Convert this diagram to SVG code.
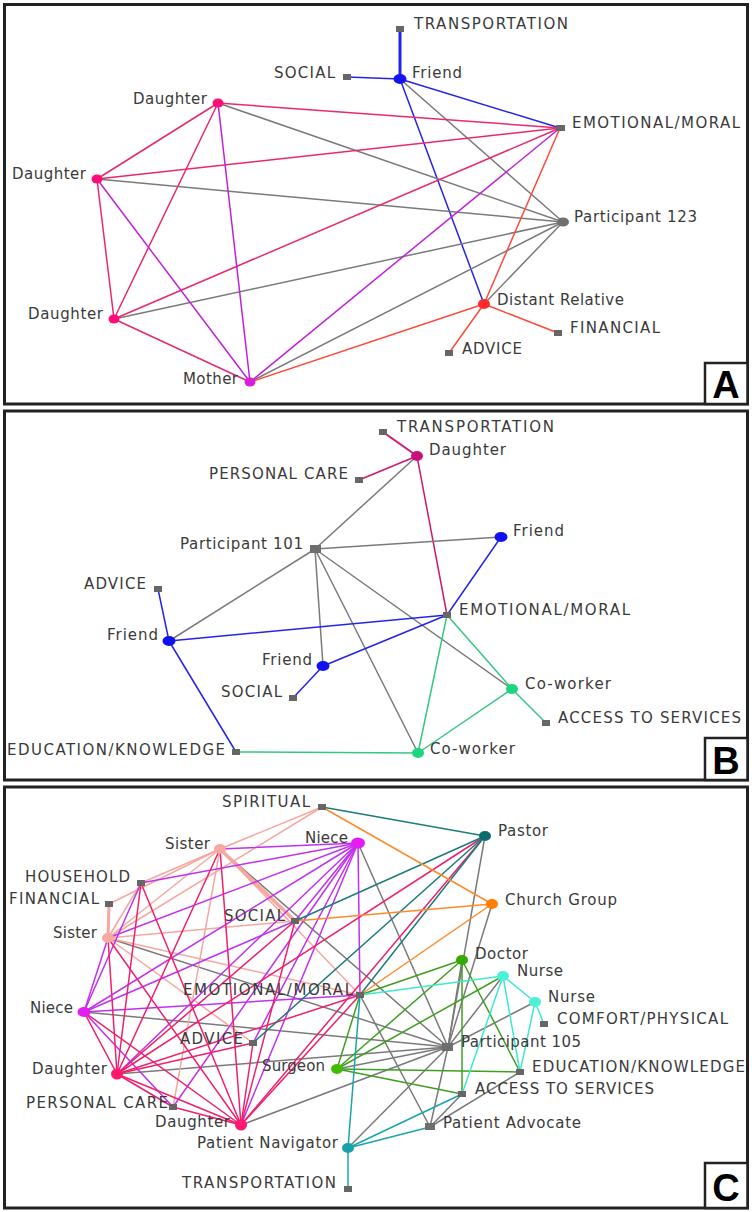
<svg xmlns="http://www.w3.org/2000/svg" width="755" height="1212" viewBox="0 0 755 1212">
<style>
.frame{fill:none;stroke:#222;stroke-width:3}
.tag{fill:#fff;stroke:#222;stroke-width:2.5}
.tagt{font-family:"Liberation Sans",Arial,sans-serif;font-weight:bold;font-size:38px;fill:#000;text-anchor:middle}
.l{font-family:"DejaVu Sans",Verdana,sans-serif;font-size:15px;fill:#3a3a3a}
.sq{fill:#666}
line{stroke-width:1.5;stroke-linecap:round}
.gy{stroke:#7a7a7a}
.bl{stroke:#2424e8}
.pk{stroke:#ea2870}
.pu{stroke:#c020dc}
.rd{stroke:#ff4a3a}
.bpk{stroke:#d0186e}
.gr{stroke:#33c880}
.sa{stroke:#f6a8a0}
.nv{stroke:#c230f0}
.cr{stroke:#f0206a}
.dt{stroke:#1e7b7b}
.or{stroke:#ff8a2a}
.dg{stroke:#3f9f20}
.aq{stroke:#40e8cc}
.tl{stroke:#1aa4ac}
</style>
<rect class="frame" x="4.5" y="4.5" width="743" height="399.5"/>
<rect class="frame" x="4.5" y="411" width="743" height="369"/>
<rect class="frame" x="4.5" y="787" width="743" height="421"/>
<rect class="tag" x="705" y="363" width="42.5" height="41"/>
<text class="tagt" x="726" y="398">A</text>
<rect class="tag" x="705" y="738" width="42.5" height="42"/>
<text class="tagt" x="726" y="774">B</text>
<rect class="tag" x="705" y="1163" width="42.5" height="45"/>
<text class="tagt" x="726" y="1201">C</text>

<g id="connectors">
<!-- Panel A -->
<line class="bl" x1="400" y1="79" x2="400" y2="29" style="stroke-width:3"/>
<line class="bl" x1="400" y1="79" x2="347" y2="77"/>
<line class="bl" x1="400" y1="79" x2="560" y2="128"/>
<line class="bl" x1="400" y1="79" x2="484" y2="304"/>
<line class="gy" x1="400" y1="79" x2="563" y2="222"/>
<line class="gy" x1="218" y1="103" x2="563" y2="222"/>
<line class="gy" x1="97" y1="179" x2="563" y2="222"/>
<line class="gy" x1="114" y1="319" x2="563" y2="222"/>
<line class="gy" x1="250" y1="382" x2="563" y2="222"/>
<line class="gy" x1="484" y1="304" x2="563" y2="222"/>
<line class="pk" x1="218" y1="103" x2="560" y2="128"/>
<line class="pk" x1="97" y1="179" x2="560" y2="128"/>
<line class="pk" x1="114" y1="319" x2="560" y2="128"/>
<line class="pk" x1="218" y1="103" x2="97" y2="179"/>
<line class="pk" x1="218" y1="103" x2="114" y2="319"/>
<line class="pk" x1="97" y1="179" x2="114" y2="319"/>
<line class="pk" x1="114" y1="319" x2="250" y2="382"/>
<line class="pu" x1="218" y1="103" x2="250" y2="382"/>
<line class="pu" x1="97" y1="179" x2="250" y2="382"/>
<line class="pu" x1="250" y1="382" x2="560" y2="128"/>
<line class="rd" x1="484" y1="304" x2="560" y2="128"/>
<line class="rd" x1="484" y1="304" x2="558" y2="333"/>
<line class="rd" x1="484" y1="304" x2="449" y2="353"/>
<line class="rd" x1="484" y1="304" x2="250" y2="382"/>
<!-- Panel B -->
<line class="bpk" x1="417" y1="456" x2="383" y2="432" style="stroke-width:2"/>
<line class="bpk" x1="417" y1="456" x2="359" y2="480"/>
<line class="bpk" x1="417" y1="456" x2="447" y2="615"/>
<line class="gy" x1="315" y1="549" x2="417" y2="456"/>
<line class="gy" x1="315" y1="549" x2="501" y2="537"/>
<line class="gy" x1="315" y1="549" x2="169" y2="641"/>
<line class="gy" x1="315" y1="549" x2="323" y2="666"/>
<line class="gy" x1="315" y1="549" x2="418" y2="753"/>
<line class="gy" x1="315" y1="549" x2="512" y2="689"/>
<line class="bl" x1="169" y1="641" x2="158" y2="589"/>
<line class="bl" x1="169" y1="641" x2="447" y2="615"/>
<line class="bl" x1="169" y1="641" x2="236" y2="752"/>
<line class="bl" x1="323" y1="666" x2="293" y2="698"/>
<line class="bl" x1="323" y1="666" x2="447" y2="615"/>
<line class="bl" x1="501" y1="537" x2="447" y2="615"/>
<line class="gr" x1="447" y1="615" x2="512" y2="689"/>
<line class="gr" x1="447" y1="615" x2="418" y2="753"/>
<line class="gr" x1="512" y1="689" x2="418" y2="753"/>
<line class="gr" x1="512" y1="689" x2="546" y2="723"/>
<line class="gr" x1="418" y1="753" x2="236" y2="752"/>
<!-- Panel C : gray ties -->
<line class="gy" x1="220" y1="849" x2="448" y2="1047"/>
<line class="gy" x1="108" y1="938" x2="448" y2="1047"/>
<line class="gy" x1="358" y1="843" x2="448" y2="1047"/>
<line class="gy" x1="84" y1="1012" x2="448" y2="1047"/>
<line class="gy" x1="117" y1="1074" x2="448" y2="1047"/>
<line class="gy" x1="241" y1="1125" x2="448" y2="1047"/>
<line class="gy" x1="485" y1="836" x2="448" y2="1047"/>
<line class="gy" x1="492" y1="904" x2="448" y2="1047"/>
<line class="gy" x1="462" y1="960" x2="448" y2="1047"/>
<line class="gy" x1="503" y1="976" x2="448" y2="1047"/>
<line class="gy" x1="535" y1="1002" x2="448" y2="1047"/>
<line class="gy" x1="337" y1="1069" x2="448" y2="1047"/>
<line class="gy" x1="348" y1="1148" x2="448" y2="1047"/>
<line class="gy" x1="430" y1="1127" x2="448" y2="1047"/>
<line class="gy" x1="360" y1="995" x2="430" y2="1127"/>
<line class="gy" x1="430" y1="1127" x2="520" y2="1072"/>
<line class="gy" x1="430" y1="1127" x2="462" y2="1094"/>
<!-- sisters -->
<line class="sa" x1="220" y1="849" x2="322" y2="807"/>
<line class="sa" x1="220" y1="849" x2="141" y2="883"/>
<line class="sa" x1="220" y1="849" x2="109" y2="904"/>
<line class="sa" x1="220" y1="849" x2="108" y2="938"/>
<line class="sa" x1="220" y1="849" x2="295" y2="921" style="stroke-width:3.5"/>
<line class="sa" x1="220" y1="849" x2="360" y2="995"/>
<line class="sa" x1="220" y1="849" x2="173" y2="1107"/>
<line class="sa" x1="108" y1="938" x2="322" y2="807"/>
<line class="sa" x1="108" y1="938" x2="109" y2="904" style="stroke-width:3"/>
<line class="sa" x1="108" y1="938" x2="141" y2="883"/>
<line class="sa" x1="108" y1="938" x2="295" y2="921"/>
<line class="sa" x1="108" y1="938" x2="360" y2="995"/>
<line class="sa" x1="108" y1="938" x2="253" y2="1043"/>
<!-- nieces -->
<line class="nv" x1="358" y1="843" x2="220" y2="849"/>
<line class="nv" x1="358" y1="843" x2="141" y2="883"/>
<line class="nv" x1="358" y1="843" x2="108" y2="938"/>
<line class="nv" x1="358" y1="843" x2="84" y2="1012"/>
<line class="nv" x1="358" y1="843" x2="295" y2="921"/>
<line class="nv" x1="358" y1="843" x2="360" y2="995"/>
<line class="nv" x1="358" y1="843" x2="253" y2="1043"/>
<line class="nv" x1="358" y1="843" x2="117" y2="1074"/>
<line class="nv" x1="358" y1="843" x2="241" y2="1125"/>
<line class="nv" x1="358" y1="843" x2="173" y2="1107"/>
<line class="nv" x1="84" y1="1012" x2="141" y2="883"/>
<line class="nv" x1="84" y1="1012" x2="295" y2="921"/>
<line class="nv" x1="84" y1="1012" x2="360" y2="995"/>
<line class="nv" x1="84" y1="1012" x2="108" y2="938"/>
<line class="nv" x1="84" y1="1012" x2="173" y2="1107"/>
<!-- daughters -->
<line class="cr" x1="117" y1="1074" x2="220" y2="849"/>
<line class="cr" x1="117" y1="1074" x2="141" y2="883"/>
<line class="cr" x1="117" y1="1074" x2="108" y2="938"/>
<line class="cr" x1="117" y1="1074" x2="295" y2="921"/>
<line class="cr" x1="117" y1="1074" x2="360" y2="995"/>
<line class="cr" x1="117" y1="1074" x2="253" y2="1043"/>
<line class="cr" x1="117" y1="1074" x2="241" y2="1125"/>
<line class="cr" x1="117" y1="1074" x2="84" y2="1012"/>
<line class="cr" x1="117" y1="1074" x2="485" y2="836"/>
<line class="cr" x1="117" y1="1074" x2="173" y2="1107"/>
<line class="cr" x1="241" y1="1125" x2="220" y2="849"/>
<line class="cr" x1="241" y1="1125" x2="141" y2="883"/>
<line class="cr" x1="241" y1="1125" x2="108" y2="938"/>
<line class="cr" x1="241" y1="1125" x2="295" y2="921"/>
<line class="cr" x1="241" y1="1125" x2="360" y2="995"/>
<line class="cr" x1="241" y1="1125" x2="253" y2="1043"/>
<line class="cr" x1="241" y1="1125" x2="84" y2="1012"/>
<line class="cr" x1="241" y1="1125" x2="485" y2="836"/>
<line class="cr" x1="241" y1="1125" x2="173" y2="1107"/>
<!-- pastor / church -->
<line class="dt" x1="485" y1="836" x2="322" y2="807"/>
<line class="dt" x1="485" y1="836" x2="295" y2="921"/>
<line class="dt" x1="485" y1="836" x2="360" y2="995"/>
<line class="dt" x1="485" y1="836" x2="253" y2="1043"/>
<line class="or" x1="492" y1="904" x2="322" y2="807"/>
<line class="or" x1="492" y1="904" x2="295" y2="921"/>
<line class="or" x1="492" y1="904" x2="360" y2="995"/>
<!-- doctor / surgeon -->
<line class="dg" x1="462" y1="960" x2="360" y2="995"/>
<line class="dg" x1="462" y1="960" x2="337" y2="1069"/>
<line class="dg" x1="462" y1="960" x2="462" y2="1094"/>
<line class="dg" x1="462" y1="960" x2="520" y2="1072"/>
<line class="dg" x1="337" y1="1069" x2="360" y2="995"/>
<line class="dg" x1="337" y1="1069" x2="520" y2="1072"/>
<line class="dg" x1="337" y1="1069" x2="462" y2="1094"/>
<line class="dg" x1="337" y1="1069" x2="503" y2="976"/>
<!-- nurses -->
<line class="aq" x1="503" y1="976" x2="360" y2="995"/>
<line class="aq" x1="503" y1="976" x2="535" y2="1002"/>
<line class="aq" x1="503" y1="976" x2="520" y2="1072"/>
<line class="aq" x1="503" y1="976" x2="462" y2="1094"/>
<line class="aq" x1="535" y1="1002" x2="544" y2="1024"/>
<line class="aq" x1="535" y1="1002" x2="520" y2="1072"/>
<!-- patient navigator -->
<line class="tl" x1="348" y1="1148" x2="360" y2="995"/>
<line class="tl" x1="348" y1="1148" x2="348" y2="1189"/>
<line class="tl" x1="348" y1="1148" x2="462" y2="1094"/>
<line class="tl" x1="348" y1="1148" x2="430" y2="1127"/>
</g>

<!-- Panel A nodes -->
<g id="a-transportation"><rect class="sq" x="396" y="26" width="8" height="6"/><text class="l" x="414" y="29" textLength="154">TRANSPORTATION</text></g>
<g id="a-social"><rect class="sq" x="343" y="74" width="8" height="6"/><text class="l" x="274" y="78" textLength="61">SOCIAL</text></g>
<g id="a-friend"><ellipse cx="400" cy="79" rx="6.5" ry="5" fill="#1414f0"/><text class="l" x="412" y="78" textLength="50">Friend</text></g>
<g id="a-emotional"><rect class="sq" x="556" y="125" width="9" height="6"/><text class="l" x="572" y="128" textLength="168">EMOTIONAL/MORAL</text></g>
<g id="a-participant"><ellipse cx="563" cy="222" rx="6" ry="4.5" fill="#707070"/><text class="l" x="574" y="222" textLength="123">Participant 123</text></g>
<g id="a-distant"><ellipse cx="484" cy="304" rx="6" ry="5" fill="#ff2a2a"/><text class="l" x="497" y="305" textLength="127">Distant Relative</text></g>
<g id="a-financial"><rect class="sq" x="554" y="330" width="8" height="6"/><text class="l" x="570" y="333" textLength="90">FINANCIAL</text></g>
<g id="a-advice"><rect class="sq" x="445" y="350" width="8" height="6"/><text class="l" x="462" y="354" textLength="60">ADVICE</text></g>
<g id="a-daughter1"><ellipse cx="218" cy="103" rx="5.5" ry="4.5" fill="#ff0d78"/><text class="l" x="133" y="104" textLength="74">Daughter</text></g>
<g id="a-daughter2"><ellipse cx="97" cy="179" rx="5.5" ry="4.5" fill="#ff0d78"/><text class="l" x="12" y="179" textLength="74">Daughter</text></g>
<g id="a-daughter3"><ellipse cx="114" cy="319" rx="5.5" ry="4.5" fill="#ff0d78"/><text class="l" x="28" y="319" textLength="75">Daughter</text></g>
<g id="a-mother"><text class="l" x="183" y="384" textLength="55">Mother</text><ellipse cx="250" cy="382" rx="5.5" ry="4.5" fill="#d81ed8"/></g>

<!-- Panel B nodes -->
<g id="b-transportation"><rect class="sq" x="379" y="429" width="8" height="6"/><text class="l" x="397" y="432" textLength="157">TRANSPORTATION</text></g>
<g id="b-daughter"><ellipse cx="417" cy="456" rx="6" ry="5" fill="#c8127a"/><text class="l" x="429" y="455" textLength="77">Daughter</text></g>
<g id="b-personal-care"><rect class="sq" x="355" y="477" width="8" height="6"/><text class="l" x="209" y="479" textLength="139">PERSONAL CARE</text></g>
<g id="b-participant"><rect x="310" y="545" width="11" height="8" fill="#6e6e6e"/><text class="l" x="180" y="549" textLength="123">Participant 101</text></g>
<g id="b-friend-r"><ellipse cx="501" cy="537" rx="6.5" ry="5" fill="#1010f0"/><text class="l" x="513" y="536" textLength="51">Friend</text></g>
<g id="b-advice"><rect class="sq" x="154" y="586" width="8" height="6"/><text class="l" x="84" y="589" textLength="62">ADVICE</text></g>
<g id="b-emotional"><rect class="sq" x="443" y="612" width="8" height="6"/><text class="l" x="459" y="615" textLength="171">EMOTIONAL/MORAL</text></g>
<g id="b-friend-l"><ellipse cx="169" cy="641" rx="6.5" ry="5" fill="#1010f0"/><text class="l" x="107" y="640" textLength="51">Friend</text></g>
<g id="b-friend-m"><ellipse cx="323" cy="666" rx="6.5" ry="5" fill="#1010f0"/><text class="l" x="262" y="665" textLength="50">Friend</text></g>
<g id="b-coworker-r"><ellipse cx="512" cy="689" rx="6" ry="5" fill="#1ed47e"/><text class="l" x="525" y="689" textLength="86">Co-worker</text></g>
<g id="b-social"><rect class="sq" x="289" y="695" width="8" height="6"/><text class="l" x="221" y="697" textLength="61">SOCIAL</text></g>
<g id="b-access"><rect class="sq" x="542" y="720" width="8" height="6"/><text class="l" x="558" y="723" textLength="183">ACCESS TO SERVICES</text></g>
<g id="b-education"><rect class="sq" x="232" y="749" width="8" height="6"/><text class="l" x="7" y="755" textLength="218">EDUCATION/KNOWLEDGE</text></g>
<g id="b-coworker-b"><ellipse cx="418" cy="753" rx="6" ry="5" fill="#1ed47e"/><text class="l" x="430" y="754" textLength="85">Co-worker</text></g>

<!-- Panel C nodes -->
<g id="c-spiritual"><rect class="sq" x="318" y="804" width="8" height="6"/><text class="l" x="222" y="807" textLength="88">SPIRITUAL</text></g>
<g id="c-pastor"><ellipse cx="485" cy="836" rx="6" ry="5" fill="#0b6e6e"/><text class="l" x="498" y="836" textLength="50">Pastor</text></g>
<g id="c-niece1"><text class="l" x="305" y="843" textLength="43">Niece</text><ellipse cx="358" cy="843" rx="7" ry="5.5" fill="#e41ef2"/></g>
<g id="c-sister1"><text class="l" x="165" y="849" textLength="45">Sister</text><ellipse cx="220" cy="849" rx="6" ry="5" fill="#f7a8a0"/></g>
<g id="c-household"><rect class="sq" x="137" y="880" width="8" height="6"/><text class="l" x="25" y="882" textLength="105">HOUSEHOLD</text></g>
<g id="c-financial"><rect class="sq" x="105" y="901" width="8" height="6"/><text class="l" x="9" y="904" textLength="90">FINANCIAL</text></g>
<g id="c-church"><ellipse cx="492" cy="904" rx="6" ry="5" fill="#ff8000"/><text class="l" x="505" y="905" textLength="112">Church Group</text></g>
<g id="c-social"><text class="l" x="224" y="921" textLength="61">SOCIAL</text><rect class="sq" x="291" y="918" width="8" height="6"/></g>
<g id="c-sister2"><text class="l" x="53" y="938" textLength="44">Sister</text><ellipse cx="108" cy="938" rx="6" ry="5" fill="#f7a8a0"/></g>
<g id="c-doctor"><ellipse cx="462" cy="960" rx="6" ry="5" fill="#33aa00"/><text class="l" x="475" y="959" textLength="53">Doctor</text></g>
<g id="c-nurse1"><ellipse cx="503" cy="976" rx="6" ry="5" fill="#4af0d8"/><text class="l" x="517" y="976" textLength="46">Nurse</text></g>
<g id="c-emotional"><text class="l" x="183" y="995" textLength="170">EMOTIONAL/MORAL</text><rect class="sq" x="356" y="992" width="8" height="6"/></g>
<g id="c-nurse2"><ellipse cx="535" cy="1002" rx="6" ry="5" fill="#4af0d8"/><text class="l" x="548" y="1002" textLength="47">Nurse</text></g>
<g id="c-niece2"><text class="l" x="30" y="1013" textLength="43">Niece</text><ellipse cx="84" cy="1012" rx="6.5" ry="5" fill="#e41ef2"/></g>
<g id="c-comfort"><rect class="sq" x="540" y="1021" width="8" height="6"/><text class="l" x="557" y="1024" textLength="171">COMFORT/PHYSICAL</text></g>
<g id="c-advice"><text class="l" x="180" y="1044" textLength="63">ADVICE</text><rect class="sq" x="249" y="1040" width="8" height="6"/></g>
<g id="c-participant"><rect x="442" y="1043" width="11" height="8" fill="#6e6e6e"/><text class="l" x="461" y="1047" textLength="120">Participant 105</text></g>
<g id="c-surgeon"><text class="l" x="262" y="1071" textLength="63">Surgeon</text><ellipse cx="337" cy="1069" rx="6" ry="5" fill="#44bb00"/></g>
<g id="c-education"><rect class="sq" x="516" y="1069" width="8" height="6"/><text class="l" x="532" y="1072" textLength="213">EDUCATION/KNOWLEDGE</text></g>
<g id="c-daughter1"><text class="l" x="32" y="1074" textLength="75">Daughter</text><ellipse cx="117" cy="1074" rx="6" ry="5.5" fill="#ff1a70"/></g>
<g id="c-access"><rect class="sq" x="458" y="1091" width="8" height="6"/><text class="l" x="475" y="1094" textLength="179">ACCESS TO SERVICES</text></g>
<g id="c-personal-care"><text class="l" x="26" y="1108" textLength="142">PERSONAL CARE</text><rect class="sq" x="169" y="1104" width="8" height="6"/></g>
<g id="c-daughter2"><text class="l" x="155" y="1127" textLength="75">Daughter</text><ellipse cx="241" cy="1125" rx="6" ry="5.5" fill="#ff1a70"/></g>
<g id="c-advocate"><rect x="425" y="1123" width="10" height="7" fill="#6e6e6e"/><text class="l" x="443" y="1128" textLength="138">Patient Advocate</text></g>
<g id="c-navigator"><text class="l" x="197" y="1148" textLength="141">Patient Navigator</text><ellipse cx="348" cy="1148" rx="6" ry="5" fill="#1aa0a8"/></g>
<g id="c-transportation"><text class="l" x="182" y="1188" textLength="154">TRANSPORTATION</text><rect class="sq" x="344" y="1186" width="8" height="6"/></g>
</svg>
